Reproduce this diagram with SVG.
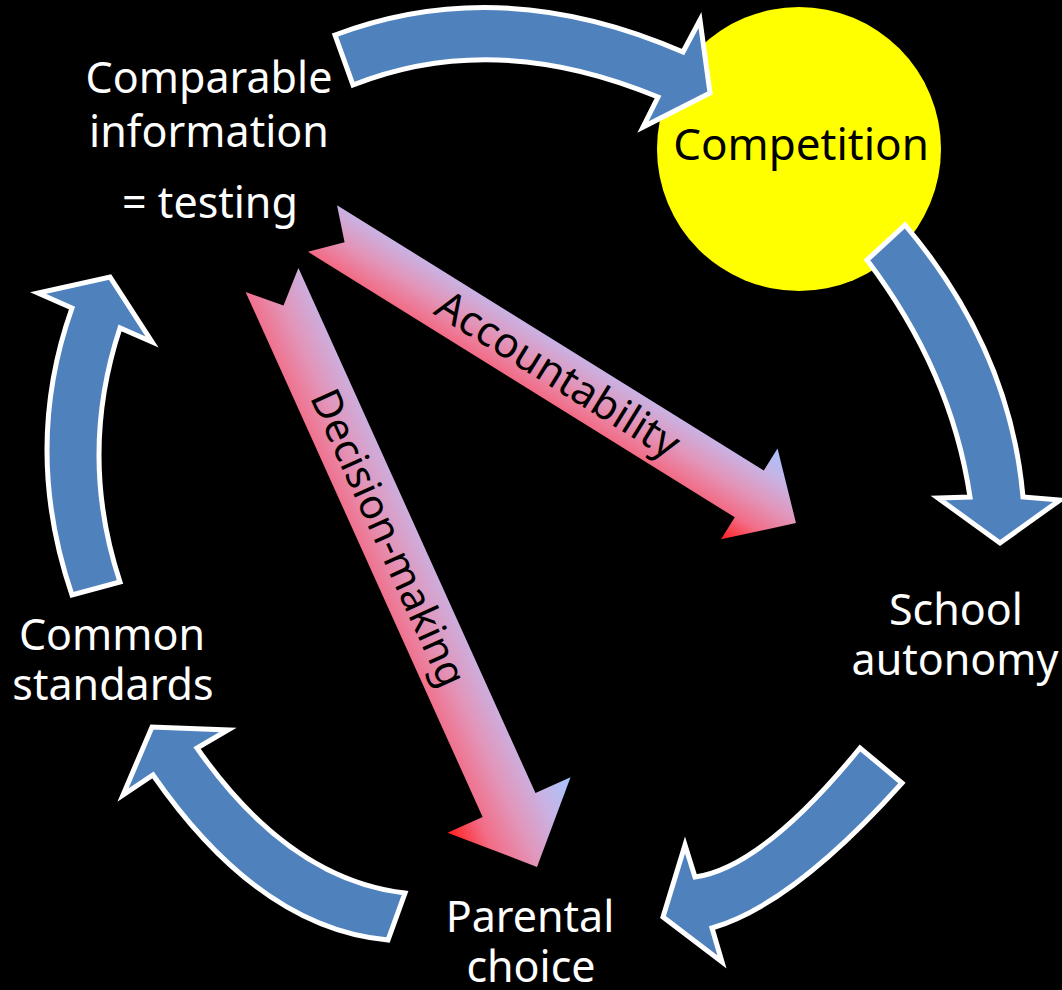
<svg xmlns="http://www.w3.org/2000/svg" width="1062" height="990" viewBox="0 0 1062 990">
<defs>
<style>
.blue{fill:#4f81bd;stroke:#ffffff;stroke-width:5;stroke-linejoin:miter}
.lbl{font-family:"Noto Sans","Open Sans",sans-serif;font-size:43px;fill:#ffffff;text-anchor:middle}
.dark{font-family:"Noto Sans","Open Sans",sans-serif;font-size:41px;fill:#000000;text-anchor:middle}
</style>
<linearGradient id="grad" x1="0" y1="1" x2="0" y2="0">
<stop offset="0" stop-color="#ff1e1e"/>
<stop offset="0.25" stop-color="#f26c86"/>
<stop offset="0.5" stop-color="#e295b9"/>
<stop offset="0.75" stop-color="#c9b2e3"/>
<stop offset="1" stop-color="#a6c4fd"/>
</linearGradient>
</defs>
<rect x="0" y="0" width="1062" height="990" fill="#000000"/>

<g id="competition">
<circle cx="799" cy="149" r="142" fill="#ffff00"/>
<text class="lbl" x="801" y="160" style="fill:#000000;font-size:44px">Competition</text>
</g>

<g id="comparable-information">
<text class="lbl" x="209" y="93">Comparable</text>
<text class="lbl" x="209" y="147">information</text>
<text class="lbl" x="210" y="218">= testing</text>
</g>

<g id="school-autonomy">
<text class="lbl" x="956" y="625">School</text>
<text class="lbl" x="955" y="675">autonomy</text>
</g>

<g id="parental-choice">
<text class="lbl" x="530" y="932">Parental</text>
<text class="lbl" x="531" y="982">choice</text>
</g>

<g id="common-standards">
<text class="lbl" x="112" y="650">Common</text>
<text class="lbl" x="113" y="700">standards</text>
</g>

<g id="connectors">
<path class="blue" d="M335,35 Q501,-27.5 683,52 L700,20 L710,93 L643,127 L658,97 Q494.5,29 353,85 Z"/>
<path class="blue" d="M905,225 Q1010,349 1023,497 L1060,500 L1000,543 L938,498 L970,497 Q951.5,371.5 867,260 Z"/>
<path class="blue" d="M902,783 Q793,904.5 712,928 L722,962 L663,917 L685,845 L695,877 Q762.5,867.5 860,748 Z"/>
<path class="blue" d="M405,893 Q289,879.5 197,748 L228,730 L152,727 L123,795 L153,775 Q259.5,928.5 388,940 Z"/>
<path class="blue" d="M120,582 Q78,455 120,328 L152,342 L110,277 L38,293 L72,308 Q22,448.5 72,595 Z"/>

<g id="accountability" transform="translate(322.5,228.5) rotate(31.88)">
<path fill="url(#grad)" d="M0,-27.5 L502.6,-27.5 L502.6,-53.5 L557.6,0 L502.6,53.5 L502.6,27.5 L0,27.5 L26,0 Z"/>
<text class="dark" x="277" y="14" style="font-size:42px">Accountability</text>
</g>
<g id="decision-making" transform="translate(272,280) rotate(65.7)">
<path fill="url(#grad)" d="M0,-29 L576,-29 L576,-67.5 L644,0 L576,67.5 L576,29 L0,29 L28,0 Z"/>
<text class="dark" x="283" y="14">Decision-making</text>
</g>
</g>
</svg>
